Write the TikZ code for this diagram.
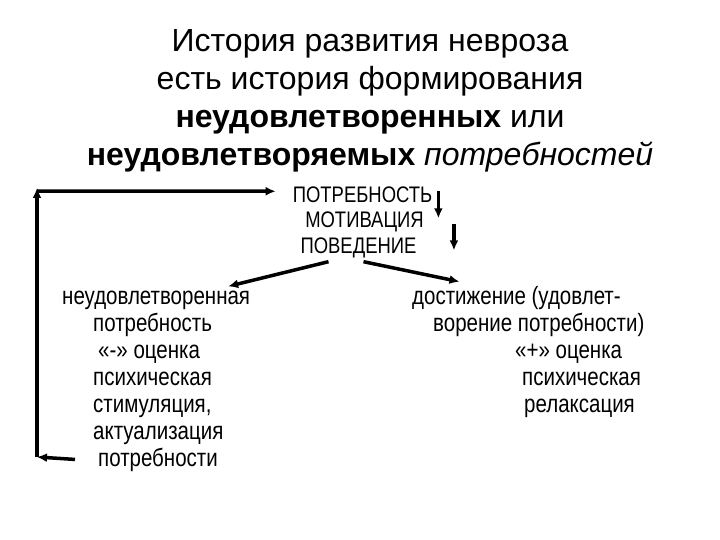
\documentclass[tikz,border=0pt]{standalone}
\usepackage{fontspec}
\setmainfont{Liberation Sans}
\newfontfamily\narrowfont[FakeStretch=0.82]{Liberation Sans}
\usepackage{tikz}
\usetikzlibrary{arrows.meta}
\tikzset{
  headline/.style={font=\fontsize{32}{38}\selectfont, inner sep=0pt, anchor=base},
  chainline/.style={font=\narrowfont\fontsize{22.5}{25}\selectfont, inner sep=0pt, anchor=base},
  textline/.style={font=\narrowfont\fontsize{25}{27}\selectfont, inner sep=0pt, anchor=base west},
  arr/.style={line width=3.5pt, -{Latex[length=10pt,width=9pt]}},
}
\begin{document}
\begin{tikzpicture}[x=1pt,y=-1pt]
\useasboundingbox[fill=white] (0,0) rectangle (720,540);
% title
\node[headline] (t1) at (370,52) {История развития невроза};
\node[headline] (t2) at (370,90) {есть история формирования};
\node[headline] (t3) at (370,128) {\textbf{неудовлетворенных} или};
\node[headline] (t4) at (370,166) {\textbf{неудовлетворяемых} \textit{потребностей}};
% chain
\node[chainline] (need) at (362.5,203) {ПОТРЕБНОСТЬ};
\node[chainline] (motive) at (364.5,228) {МОТИВАЦИЯ};
\node[chainline] (behav) at (358.5,253) {ПОВЕДЕНИЕ};
\draw[arr] ([xshift=6pt,yshift=4pt]need.east) -- ++(0,27);
\draw[arr] ([xshift=30pt,yshift=-2pt]motive.east) -- ++(0,26);
% left branch
\node[textline] (unsat1) at (62,304) {неудовлетворенная};
\node[textline] (unsat2) at (93,331) {потребность};
\node[textline] (unsat3) at (98,358) {«-» оценка};
\node[textline] (unsat4) at (93,385) {психическая};
\node[textline] (unsat5) at (93,412) {стимуляция,};
\node[textline] (unsat6) at (93,439) {актуализация};
\node[textline] (unsat7) at (98,466) {потребности};
% right branch
\node[textline] (sat1) at (412,304) {достижение (удовлет-};
\node[textline] (sat2) at (433,331) {ворение потребности)};
\node[textline] (sat3) at (515,358) {«+» оценка};
\node[textline] (sat4) at (522,385) {психическая};
\node[textline] (sat5) at (524,412) {релаксация};
\draw[arr] ([xshift=-30pt,yshift=-4pt]behav.south) -- ([xshift=72pt,yshift=4pt]unsat1.north);
\draw[arr] ([xshift=5pt,yshift=-4pt]behav.south) -- ([xshift=-57pt,yshift=4pt]sat1.north);
% loop back
\coordinate (loopbl) at (37,457);
\coordinate (looptl) at (37,188);
\draw[arr] ([xshift=-23pt]unsat7.west) -- (loopbl);
\draw[line width=3.5pt] (loopbl) -- ++(0,-6);
\draw[arr] ([yshift=6pt]loopbl) -- (looptl);
\draw[arr] ([yshift=-3pt]looptl) -- ([xshift=-17pt,yshift=4pt]need.west);
\end{tikzpicture}
\end{document}
